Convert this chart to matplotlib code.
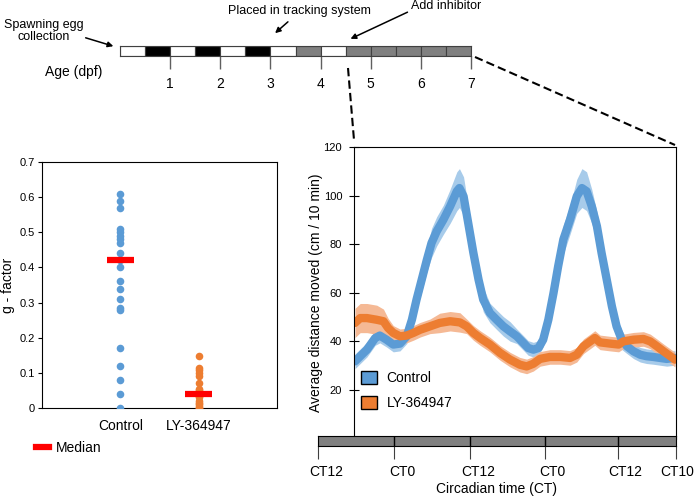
import matplotlib
matplotlib.use('Agg')
import matplotlib.pyplot as plt
from matplotlib.patches import Patch
from matplotlib.lines import Line2D
from matplotlib.transforms import ScaledTranslation

plt.rcParams['font.family'] = ['Liberation Sans', 'DejaVu Sans']

# timeline (dpf), half-day segments
seg_colors = ['white', 'black', 'white', 'black', 'white', 'black', 'white',
              'gray', 'white', 'gray', 'gray', 'gray', 'gray', 'gray']
days = [1, 2, 3, 4, 5, 6, 7]

# g-factor
groups = ['Control', 'LY-364947']
g_control = [0.61, 0.59, 0.57, 0.51, 0.50, 0.49, 0.48, 0.47, 0.44, 0.42, 0.40,
             0.36, 0.34, 0.31, 0.285, 0.28, 0.17, 0.12, 0.08, 0.04, 0.0]
g_ly = [0.147, 0.115, 0.108, 0.10, 0.09, 0.07, 0.055, 0.05, 0.045, 0.04, 0.035,
        0.03, 0.02, 0.015, 0.01, 0.005, 0.0, 0.0]
medians = [0.42, 0.04]

# activity (hours from start of recording)
ctrl_t = [0.2, 2.5, 4.1, 5.0, 6.3, 7.6, 8.9, 10.2, 11.2, 12.1, 13.1, 14.1, 15.0, 16.0,
          17.3, 18.6, 19.9, 20.4, 21.2, 22.1, 23.1, 24.1, 25.0, 26.3, 27.6, 28.9, 30.2,
          31.5, 32.8, 33.7, 34.7, 35.7, 36.6, 37.6, 38.6, 39.5, 40.5, 41.8, 43.1, 44.1,
          45.0, 46.0, 47.0, 47.9, 48.9, 49.9, 50.8, 51.8, 52.8, 54.1, 55.4, 56.6, 57.9,
          59.2, 60.5, 62.1]
ctrl_v = [31.8, 36.6, 41.4, 42.4, 40.7, 38.7, 39.1, 42.1, 48.9, 57.2, 65.4, 73.6, 80.5,
          85.3, 90.1, 95.6, 101.8, 103.1, 99.7, 88.7, 76.4, 65.4, 57.2, 51.7, 48.9, 46.2,
          44.1, 42.1, 39.3, 37.3, 36.6, 37.3, 40.7, 48.9, 59.9, 70.9, 81.9, 90.1, 99.7,
          103.1, 101.8, 95.6, 87.4, 76.4, 65.4, 54.4, 46.2, 40.7, 38.0, 35.9, 34.5, 33.9,
          33.6, 33.2, 32.8, 33.2]
ctrl_e = [3, 3, 3, 3, 3, 3, 3, 3, 4, 4, 5, 5, 6, 6, 6, 7, 8, 8, 8, 7, 6, 5, 5, 4, 4, 4,
          4, 3, 3, 3, 3, 3, 3, 4, 5, 5, 6, 6, 7, 8, 8, 7, 6, 6, 5, 5, 4, 4, 3, 3, 3, 3,
          3, 3, 3, 3]
ly_t = [0.2, 1.2, 2.5, 4.4, 5.7, 6.6, 7.6, 8.9, 10.2, 11.5, 12.8, 14.7, 16.6, 18.6,
        20.5, 21.8, 23.1, 24.4, 26.3, 28.3, 30.2, 32.1, 33.4, 34.7, 36.0, 37.9, 39.9,
        41.8, 43.1, 44.4, 45.7, 46.6, 47.6, 49.5, 51.2, 52.1, 54.1, 56.0, 57.3, 58.6,
        59.9, 61.2, 62.1]
ly_v = [47.6, 49.6, 49.6, 48.9, 48.3, 45.5, 43.5, 42.1, 42.4, 43.5, 44.8, 46.2, 47.6,
        48.3, 47.8, 46.2, 43.5, 41.4, 38.7, 35.2, 32.5, 30.4, 29.7, 30.8, 32.8, 33.6,
        33.6, 33.2, 34.5, 38.0, 40.0, 41.4, 39.6, 39.1, 38.7, 40.0, 40.7, 41.0, 40.0,
        38.0, 35.9, 33.9, 32.5]
ly_e = [6, 6, 6, 6, 5, 4, 3, 3, 3, 3, 3, 3, 4, 4, 4, 3, 3, 3, 3, 3, 3, 3, 3, 3, 3, 3,
        3, 3, 3, 3, 3, 3, 3, 3, 3, 3, 3, 3, 3, 3, 3, 3, 3]

ct_labels = ['CT12', 'CT0', 'CT12', 'CT0', 'CT12', 'CT10']
ct_pos = [0, 12, 24, 35.8, 47.3, 56.5]

blue = '#5B9BD5'
orange = '#ED7D31'

W, H = 694, 499
fig = plt.figure(figsize=(W / 100, H / 100), dpi=100)


def px_axes(x0, y0, x1, y1, **kw):
    return fig.add_axes([x0 / W, 1 - y1 / H, (x1 - x0) / W, (y1 - y0) / H], **kw)


# ---- timeline bar ----
axt = px_axes(120, 46, 471, 56)
lefts = [i * 0.5 for i in range(len(seg_colors))]
axt.bar(lefts, [1] * len(seg_colors), width=0.5, align='edge', color=seg_colors,
        edgecolor='#404040', linewidth=0.8)
axt.set_xlim(0, 7)
axt.set_ylim(0, 1)
axt.set_yticks([])
axt.set_xticks(days)
axt.set_xticklabels([str(d) for d in days], fontsize=10)
axt.tick_params(axis='x', length=9, width=1, color='#606060', pad=6)
for s in axt.spines.values():
    s.set_color('#404040')
    s.set_linewidth(0.8)

# ---- g-factor panel ----
ax1 = px_axes(42, 162, 277, 408)
ax1.scatter([1] * len(g_control), g_control, s=30, color=blue, zorder=3, linewidths=0)
ax1.scatter([2] * len(g_ly), g_ly, s=30, color=orange, zorder=3, linewidths=0)
ax1.hlines(medians, [1 - 0.17, 2 - 0.17], [1 + 0.17, 2 + 0.17], colors='red',
           linewidth=4.5, zorder=4)
ax1.set_xlim(0, 3)
ax1.set_ylim(0, 0.7)
ax1.set_xticks([1, 2])
ax1.set_xticklabels(groups, fontsize=10)
ax1.tick_params(axis='x', length=0, pad=8)
ax1.set_yticks([0, 0.1, 0.2, 0.3, 0.4, 0.5, 0.6, 0.7])
ax1.set_yticklabels(['0', '0.1', '0.2', '0.3', '0.4', '0.5', '0.6', '0.7'])
ax1.tick_params(axis='y', length=3, labelsize=8, pad=2)
ax1.set_ylabel('g - factor', fontsize=10)
ax1.yaxis.set_label_coords(-0.117, 0.5)
ax1.legend(handles=[Line2D([], [], color='red', lw=4.5)], labels=['Median'],
           loc='upper left', bbox_to_anchor=(36 / W, 1 - 441 / H),
           bbox_transform=fig.transFigure, frameon=False, fontsize=10,
           handlelength=0.9, handletextpad=0.5, borderpad=0, borderaxespad=0)

# ---- activity panel ----
ax2 = px_axes(354, 147, 676, 438.6)
ax2.fill_between(ctrl_t, [v - e for v, e in zip(ctrl_v, ctrl_e)],
                 [v + e for v, e in zip(ctrl_v, ctrl_e)], color='#A7CBEA', lw=0)
ax2.fill_between(ly_t, [v - e for v, e in zip(ly_v, ly_e)],
                 [v + e for v, e in zip(ly_v, ly_e)], color='#F5B995', lw=0)
ax2.plot(ctrl_t, ctrl_v, color=blue, lw=6, solid_capstyle='round')
ax2.plot(ly_t, ly_v, color=orange, lw=6, solid_capstyle='round')
ax2.set_xlim(0, 62.3)
ax2.set_ylim(0, 120)
ax2.set_xticks([])
ax2.set_yticks([20, 40, 60, 80, 100, 120])
ax2.tick_params(axis='y', direction='inout', length=7, labelsize=8, pad=5)
ax2.spines['bottom'].set_visible(False)
ax2.set_ylabel('Average distance moved (cm / 10 min)', fontsize=10)
ax2.yaxis.set_label_coords(-0.095, 0.5)
ax2.legend(handles=[Patch(facecolor=blue, edgecolor='black'),
                    Patch(facecolor=orange, edgecolor='black')],
           labels=groups, loc='upper left', bbox_to_anchor=(361 / W, 1 - 371 / H),
           bbox_transform=fig.transFigure, frameon=False, fontsize=10,
           handlelength=1.15, handleheight=1.1, labelspacing=0.75,
           handletextpad=0.7, borderpad=0, borderaxespad=0)

# ---- circadian bar ----
axb = px_axes(318, 436, 676, 446)
axb.set_facecolor('#808080')
axb.set_xlim(ct_pos[0], ct_pos[-1])
axb.set_ylim(0, 1)
axb.vlines(ct_pos[1:-1], 0, 1, colors='black', lw=1)
axb.set_yticks([])
axb.set_xticks(ct_pos)
axb.set_xticklabels(ct_labels, fontsize=10)
axb.tick_params(axis='x', length=9, color='#404040', pad=5)
for i, lab in enumerate(axb.get_xticklabels()):
    dx = 1 if i == len(ct_labels) - 1 else 8
    lab.set_transform(lab.get_transform() + ScaledTranslation(dx / 100, 0, fig.dpi_scale_trans))
axb.set_xlabel('Circadian time (CT)', fontsize=10, labelpad=2)

# ---- annotations overlay ----
ov = fig.add_axes([0, 0, 1, 1], zorder=10)
ov.set_xlim(0, W)
ov.set_ylim(H, 0)
ov.set_axis_off()
ov.patch.set_visible(False)
arr = dict(arrowstyle='-|>', color='black', lw=1.1, mutation_scale=8)
ov.text(44, 31, 'Spawning egg\ncollection', fontsize=9, ha='center', va='center',
        linespacing=1.1)
ov.annotate('', xy=(116, 47), xytext=(83, 37), arrowprops=arr)
ov.text(299, 11, 'Placed in tracking system', fontsize=9, ha='center', va='center')
ov.annotate('', xy=(273, 35), xytext=(290, 20), arrowprops=arr)
ov.text(446, 6, 'Add inhibitor', fontsize=9, ha='center', va='center')
ov.annotate('', xy=(348, 40), xytext=(410, 11), arrowprops=arr)
ov.text(74, 72, 'Age (dpf)', fontsize=10, ha='center', va='center')
ov.plot([348, 354], [68, 140], color='black', lw=1.5, ls=(0, (4, 2)))
ov.plot([475, 675], [57, 145], color='black', lw=1.5, ls=(0, (4, 2)))

fig.savefig('out.png', dpi=100)
